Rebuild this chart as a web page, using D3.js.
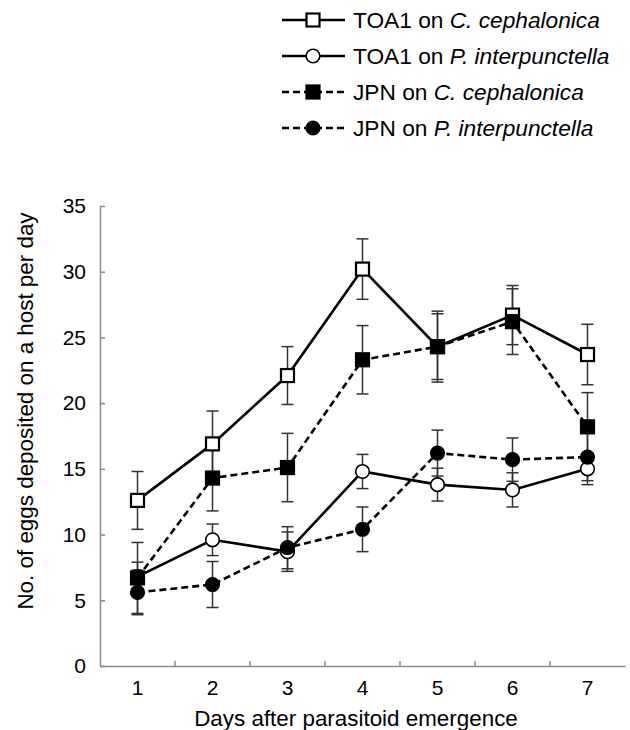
<!DOCTYPE html>
<html>
<head>
<meta charset="utf-8">
<script src="https://cdn.jsdelivr.net/npm/d3@7"></script>
<style>
  body { margin: 0; background: #fff; }
  svg text { font-family: "Liberation Sans", Arial, sans-serif; fill: #000; }
</style>
</head>
<body>
<div id="chart"></div>
<script>
const days = [1, 2, 3, 4, 5, 6, 7]
const yTicks = [0, 5, 10, 15, 20, 25, 30, 35]

// means and standard errors
const toaCeph = [12.6, 16.9, 22.1, 30.2, 24.3, 26.7, 23.7]
const toaCephErr = [2.2, 2.5, 2.2, 2.3, 2.7, 2.25, 2.3]
const toaPlod = [6.8, 9.6, 8.7, 14.8, 13.8, 13.4, 15.0]
const toaPlodErr = [1.1, 1.2, 1.5, 1.3, 1.25, 1.3, 1.2]
const jpnCeph = [6.7, 14.3, 15.1, 23.3, 24.3, 26.2, 18.2]
const jpnCephErr = [2.7, 2.5, 2.6, 2.6, 2.5, 2.5, 2.6]
const jpnPlod = [5.6, 6.2, 9.0, 10.4, 16.2, 15.7, 15.9]
const jpnPlodErr = [1.7, 1.75, 1.6, 1.7, 1.75, 1.65, 1.8]

const series = [
  { host: "C. cephalonica", strain: "TOA1", values: toaCeph, errs: toaCephErr, shape: "square", filled: false, dashed: false },
  { host: "P. interpunctella", strain: "TOA1", values: toaPlod, errs: toaPlodErr, shape: "circle", filled: false, dashed: false },
  { host: "C. cephalonica", strain: "JPN", values: jpnCeph, errs: jpnCephErr, shape: "square", filled: true, dashed: true },
  { host: "P. interpunctella", strain: "JPN", values: jpnPlod, errs: jpnPlodErr, shape: "circle", filled: true, dashed: true }
]

const width = 630, height = 730
const svg = d3.select("#chart").append("svg")
  .attr("width", width)
  .attr("height", height)

const x = d3.scaleBand().domain(days).range([100, 625])
const y = d3.scaleLinear().domain([0, 35]).range([666, 206])
const cx = d => x(d) + x.bandwidth() / 2

const axisColor = "#8a8a8a"

// y axis
const yAxis = svg.append("g")
  .attr("transform", "translate(100,0)")
  .call(d3.axisLeft(y).tickValues(yTicks).tickSizeInner(-5).tickSizeOuter(0).tickPadding(14))
yAxis.select(".domain").attr("stroke", axisColor).attr("stroke-width", 1.5)
yAxis.selectAll(".tick line").attr("stroke", axisColor).attr("stroke-width", 1.5)
yAxis.selectAll(".tick text").attr("font-size", 21).attr("fill", "#000")

// x axis: labels centred in the bands, ticks on the band boundaries
const xAxis = svg.append("g")
  .attr("transform", "translate(0,666)")
  .call(d3.axisBottom(x).tickSize(0).tickPadding(14))
xAxis.select(".domain").attr("stroke", axisColor).attr("stroke-width", 1.5)
xAxis.selectAll(".tick text").attr("font-size", 21).attr("fill", "#000")
xAxis.selectAll(".boundary")
  .data(days.slice(1))
  .enter().append("line")
  .attr("x1", d => x(d)).attr("x2", d => x(d))
  .attr("y1", 0).attr("y2", -5)
  .attr("stroke", axisColor).attr("stroke-width", 1.5)

svg.append("text")
  .attr("x", 356).attr("y", 726)
  .attr("text-anchor", "middle")
  .attr("font-size", 22.4)
  .text("Days after parasitoid emergence")

svg.append("text")
  .attr("transform", "translate(33,411) rotate(-90)")
  .attr("text-anchor", "middle")
  .attr("font-size", 22.4)
  .text("No. of eggs deposited on a host per day")

function drawMarker(g, s, px, py) {
  if (s.shape == "square") {
    g.append("rect")
      .attr("x", px - 6.5).attr("y", py - 6.5)
      .attr("width", 13).attr("height", 13)
      .attr("fill", s.filled ? "#000" : "#fff")
      .attr("stroke", "#000").attr("stroke-width", 2.2)
  } else {
    g.append("circle")
      .attr("cx", px).attr("cy", py).attr("r", 6.8)
      .attr("fill", s.filled ? "#000" : "#fff")
      .attr("stroke", "#000").attr("stroke-width", 1.6)
  }
}

const line = d3.line()
  .x((d, i) => cx(days[i]))
  .y(d => y(d))

// error bars underneath everything
series.forEach(s => {
  const eb = svg.append("g")
  s.values.forEach((v, i) => {
    const px = cx(days[i])
    const top = y(v + s.errs[i]), bot = y(v - s.errs[i])
    eb.append("line").attr("x1", px).attr("x2", px).attr("y1", top).attr("y2", bot)
      .attr("stroke", "#333").attr("stroke-width", 1.5)
    ;[top, bot].forEach(yy => {
      eb.append("line").attr("x1", px - 6).attr("x2", px + 6).attr("y1", yy).attr("y2", yy)
        .attr("stroke", "#333").attr("stroke-width", 1.5)
    })
  })
})

series.forEach(s => {
  const g = svg.append("g")
  g.append("path")
    .datum(s.values)
    .attr("d", line)
    .attr("fill", "none")
    .attr("stroke", "#000")
    .attr("stroke-width", 2.6)
    .attr("stroke-dasharray", s.dashed ? "7,4" : null)
  s.values.forEach((v, i) => drawMarker(g, s, cx(days[i]), y(v)))
})

// legend
const legend = svg.append("g")
series.forEach((s, i) => {
  const ly = 20 + i * 36
  const row = legend.append("g")
  row.append("line")
    .attr("x1", 282).attr("x2", 345).attr("y1", ly).attr("y2", ly)
    .attr("stroke", "#000").attr("stroke-width", 2.6)
    .attr("stroke-dasharray", s.dashed ? "7,4" : null)
  drawMarker(row, s, 313, ly)
  const t = row.append("text")
    .attr("x", 353).attr("y", ly + 8)
    .attr("font-size", 22.7)
  t.append("tspan").text(s.strain + " on ")
  t.append("tspan").attr("font-style", "italic").text(s.host)
})
</script>
</body>
</html>
